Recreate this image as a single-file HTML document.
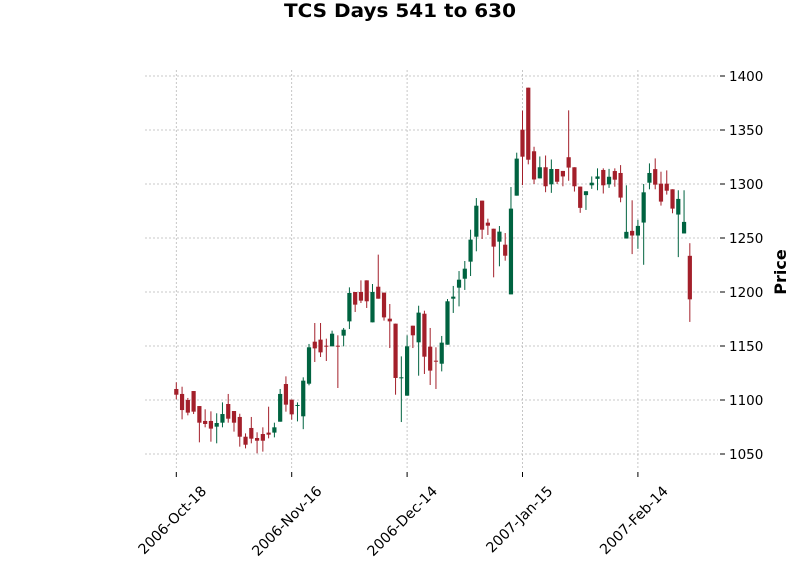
<!DOCTYPE html>
<html><head><meta charset="utf-8"><style>
body{margin:0;background:#fff;}
svg{display:block;font-family:"DejaVu Sans","Liberation Sans",sans-serif;}
</style></head><body>
<svg id="chart" width="800" height="575" viewBox="0 0 800 575" xmlns="http://www.w3.org/2000/svg">
<text x="400" y="17" text-anchor="middle" font-weight="bold" font-size="19" textLength="232" lengthAdjust="spacingAndGlyphs">TCS Days 541 to 630</text>
<g id="grid"></g>
<g id="candles"></g>
<g id="yaxis"></g>
<g id="xaxis"></g>
<text transform="translate(786,272) rotate(-90)" text-anchor="middle" font-weight="bold" font-size="16">Price</text>
</svg>
<script>
const opens  = [1110.2,1105.6,1100,1108.3,1094.4,1080.6,1080.6,1075.3,1079,1096.3,1089.8,1084.3,1066,1074.1,1064.8,1068.5,1069.8,1069.8,1079.9,1114.8,1100.3,1094.6,1084.9,1115.1,1154,1155.9,1150.3,1149.7,1150.3,1159.6,1172.8,1200,1200,1210.8,1171.9,1204.9,1199.4,1175.3,1170.7,1120.4,1104,1168.8,1153.4,1179.9,1149.4,1136.4,1133.6,1151.2,1193.8,1204,1212.3,1228.1,1251.2,1284.6,1264.2,1258.6,1246.6,1243.8,1197.8,1289.2,1350.3,1389.2,1330.3,1305.2,1315.5,1299.7,1313.9,1312.1,1324.8,1315.5,1297.6,1289.7,1298.8,1304.8,1313,1299.7,1312,1310.2,1249.5,1256.6,1252.3,1264.3,1301.2,1313.8,1300.3,1300.3,1295.1,1271.7,1254.2,1233.5];
const highs  = [1116.4,1112.3,1101.9,1108.3,1094.4,1091.4,1089.5,1087.7,1097.8,1105.6,1089.8,1087.3,1069.1,1084.3,1070.1,1074.7,1093.8,1079,1110.2,1121.9,1100.3,1097.8,1121,1151.9,1171.3,1171.3,1156.8,1164.2,1159.9,1166.7,1204.3,1200,1210.8,1210.8,1207.4,1234.6,1199.4,1188.9,1170.7,1140.4,1159.9,1168.8,1187.3,1182.7,1166.7,1148.8,1159.3,1193.5,1205.6,1219.4,1228.7,1257.7,1287,1284.6,1267.9,1258.6,1261.1,1254.6,1297.2,1329,1367.9,1389.2,1334.5,1325.5,1326.4,1322.7,1313.9,1312.1,1368.2,1315.5,1297.6,1293.3,1307,1314.5,1314.5,1314,1314.5,1317.5,1298.8,1284.9,1266.8,1300,1319.1,1323.7,1311.4,1312.6,1295.1,1294.2,1294.2,1245.2];
const lows   = [1100.6,1082.1,1085.8,1087,1060.8,1074.7,1061.4,1059.9,1074.7,1079,1070.7,1056.8,1055.2,1059.9,1050.6,1052.2,1064.5,1065.4,1079.9,1089.2,1081.8,1080.2,1073,1113.6,1135.2,1139.8,1136.1,1149.7,1111.1,1149.7,1165.7,1181.5,1189.8,1185.2,1171.9,1193.8,1173.5,1148.1,1104.9,1079.6,1104,1148.1,1122.5,1124.1,1113.9,1110.2,1126.5,1151.2,1180.6,1186.7,1201.9,1214.8,1237.7,1249.1,1252.8,1213.6,1223.8,1229,1197.8,1289.2,1299,1318.2,1300,1305.2,1292.4,1291.8,1300,1297.9,1303,1293,1273.3,1276,1295.5,1294.2,1291.2,1296.4,1297.5,1283.1,1249.5,1235.1,1240,1225.2,1295.1,1295.1,1280,1290.2,1272.9,1232.3,1254.2,1172.3];
const closes = [1104.9,1090.7,1088.3,1089.2,1079,1077.8,1073.5,1078.7,1087,1082.7,1079,1066,1058.6,1064.2,1062.3,1062.3,1067.9,1074.7,1105.6,1095.7,1086.7,1095.4,1117.9,1148.8,1147.8,1144.1,1149.7,1161.4,1149.7,1165.1,1199.1,1188.3,1192,1191.4,1200,1193.8,1176.5,1172.8,1120.4,1121,1149.7,1159.9,1180.9,1140.1,1127.2,1135.8,1153.1,1191.4,1195.7,1211.4,1221.6,1248.5,1279.9,1257.7,1261.4,1242,1255.9,1233.6,1277.2,1323.5,1325.3,1322.5,1304.2,1315.5,1297.9,1313.9,1302.1,1307,1315.2,1297.9,1277.9,1293.3,1301.2,1307,1298.8,1306.7,1304,1287.4,1255.7,1252.3,1261.2,1292.3,1310.2,1299.4,1283.7,1293.8,1277.2,1286.2,1264.9,1193.2];
const yTicks = [1050,1100,1150,1200,1250,1300,1350,1400];
const xTickIdx = [0,20,40,60,80];
const xTickLabels = ["2006-Oct-18","2006-Nov-16","2006-Dec-14","2007-Jan-15","2007-Feb-14"];

const NS="http://www.w3.org/2000/svg";
const X0=176.3, DX=5.77, PL=145, PR=718, PT=70, PB=470;
function xs(i){return X0+DX*i;}
function ys(v){return 400-(v-1100)*1.08;}
function mk(tag,attrs,parent){const e=document.createElementNS(NS,tag);for(const k in attrs)e.setAttribute(k,attrs[k]);parent.appendChild(e);return e;}
const grid=document.getElementById('grid'), cg=document.getElementById('candles'), ya=document.getElementById('yaxis'), xa=document.getElementById('xaxis');

yTicks.forEach(v=>{
  const y=ys(v);
  const g=mk('line',{x1:PL,x2:PR,y1:y,y2:y,stroke:'#b8b8b8','stroke-width':0.8,'stroke-dasharray':'2,2'},grid);
  
  
  const t=mk('line',{x1:720,x2:725,y1:y,y2:y,stroke:'#000','stroke-width':1},ya);
  
  
  const l=mk('text',{x:729,y:y+5,'font-size':13.5},ya);
  l.textContent=v;
  
  
});
xTickIdx.forEach((idx,k)=>{
  const x=xs(idx);
  const g=mk('line',{x1:x,x2:x,y1:PT,y2:PB,stroke:'#b8b8b8','stroke-width':0.8,'stroke-dasharray':'2,2'},grid);
  
  
  const t=mk('line',{x1:x,x2:x,y1:472,y2:477,stroke:'#000','stroke-width':1},xa);
  
  
  const l=mk('text',{x:0,y:0,'font-size':14.2,'text-anchor':'end',transform:`translate(${x+31},${492}) rotate(-45)`},xa);
  l.textContent=xTickLabels[k];
  
  
});
for(let i=0;i<opens.length;i++){
  const up=closes[i]>=opens[i];
  const col=up?'#006340':'#a31f2a';
  const x=xs(i);
  const w=mk('line',{x1:x,x2:x,y1:ys(highs[i]),y2:ys(lows[i]),stroke:col,'stroke-width':1},cg);
  
  
  const top=ys(Math.max(opens[i],closes[i])), bot=ys(Math.min(opens[i],closes[i]));
  const b=mk('rect',{x:x-2.1,y:top,width:4.2,height:Math.max(bot-top,1),fill:col},cg);
  
  
}
</script>
</body></html>
